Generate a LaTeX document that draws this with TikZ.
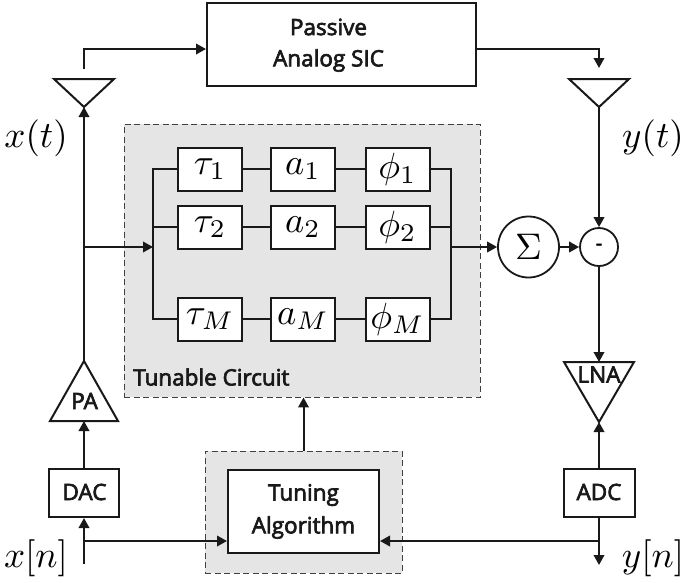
\documentclass[tikz,border=0pt]{standalone}
\usepackage[no-math]{fontspec}
\newfontfamily\labfont[FakeBold=3]{Open Sans}
\usetikzlibrary{arrows.meta,calc}
\newcommand{\mbx}[1]{\scalebox{3.65}{$#1$}}
\newcommand{\msg}[1]{\scalebox{3.7}{$#1$}}
\tikzset{
  wire/.style={line width=2pt,draw=black!90,line cap=butt},
  arr/.style={wire,-{Triangle[length=10pt,width=10.5pt]}},
  blockbox/.style={draw=black!90,line width=2pt,fill=white,inner sep=0pt},
  mathbox/.style={draw=black!90,line width=2pt,fill=white,inner sep=0pt,minimum width=64pt,minimum height=43pt},
  graybox/.style={draw=black!75,line width=0.9pt,dash pattern=on 6pt off 3.5pt,fill=black!10,inner sep=0pt},
  tri/.style={draw=black!90,line width=2pt,fill=white,line join=miter},
  sig/.style={inner sep=0pt},
  lab/.style={inner sep=0pt,text=black!90,font=\labfont\fontsize{22.5}{22.5}\selectfont},
  circ/.style={circle,draw=black!90,line width=1.8pt,fill=white,inner sep=0pt}
}
\begin{document}
\begin{tikzpicture}[x=1pt,y=-1pt]
\useasboundingbox (0,0) rectangle (684,582);
% shaded regions
\node[graybox,minimum width=356pt,minimum height=273pt] (tun) at (302,260.5) {};
\node[graybox,minimum width=197pt,minimum height=122pt] (tg) at (303.5,512) {};
\node[lab,anchor=west] (tunlab) at (133,377) {Tunable Circuit};
% blocks
\node[blockbox,minimum width=269pt,minimum height=83pt] (sic) at (341.5,44.5) {};
\node[lab] (sica) at (328.5,27) {Passive};
\node[lab] (sicb) at (328.5,60.5) {Analog SIC};
\node[blockbox,minimum width=70pt,minimum height=48pt] (dac) at (84,493) {};
\node[lab] (daclab) at (84.5,492) {DAC};
\node[blockbox,minimum width=71pt,minimum height=48pt] (adc) at (599,493) {};
\node[lab] (adclab) at (599,492) {ADC};
\node[blockbox,minimum width=151pt,minimum height=83pt] (alg) at (303.5,511.5) {};
\node[lab] (alga) at (303.5,495) {Tuning};
\node[lab] (algb) at (303.5,527.5) {Algorithm};
\node[mathbox] (t1) at (210,169) {\mbx{\tau_1}};
\node[mathbox] (a1) at (303,169) {\mbx{a_1}};
\node[mathbox] (p1) at (397.5,169) {\mbx{\phi_1}};
\node[mathbox] (t2) at (210,227) {\mbx{\tau_2}};
\node[mathbox] (a2) at (303,227) {\mbx{a_2}};
\node[mathbox] (p2) at (397.5,227) {\mbx{\phi_2}};
\node[mathbox] (tm) at (210,319) {\mbx{\tau_M}};
\node[mathbox] (am) at (303,319) {\mbx{a_M}};
\node[mathbox] (pm) at (397.5,319) {\mbx{\phi_M}};
% summation
\node[circ,minimum size=61pt] (sum) at (528.5,247) {\msg{\Sigma}};
\node[circ,minimum size=38pt,font=\labfont\fontsize{20}{20}\selectfont] (sub) at (599,247) {-};
% antennas and amplifiers
\coordinate (txl) at (54,79); \coordinate (txr) at (114,79); \coordinate (txtip) at (84,107);
\coordinate (rxl) at (569,79); \coordinate (rxr) at (629,79); \coordinate (rxtip) at (599,107);
\coordinate (pal) at (50,421); \coordinate (par) at (118,421); \coordinate (patip) at (84,361);
\coordinate (lnl) at (564,362); \coordinate (lnr) at (634,362); \coordinate (lntip) at (599,422);
\draw[tri] (txl) -- (txr) -- (txtip) -- cycle;
\draw[tri] (rxl) -- (rxr) -- (rxtip) -- cycle;
\draw[tri] (pal) -- (par) -- (patip) -- cycle;
\draw[tri] (lnl) -- (lnr) -- (lntip) -- cycle;
\node[lab] (palab) at (84.5,401) {PA};
\node[lab] (lnalab) at (599,374.5) {LNA};
% free ends
\coordinate (txtop) at (84,69);
\coordinate (rxtop) at (599,68);
\coordinate (lbus) at (153,247);
\coordinate (rbus) at (451,247);
\coordinate (xin) at (84,564);
\coordinate (yout) at (599,565);
\coordinate (xbr) at (84,541);
\coordinate (ybr) at (599,541);
\coordinate (txbr) at (84,247);
% connectors
\draw[arr] (txtop) |- ([yshift=-4.5pt]sic.west);
\draw[arr] ([yshift=-4.5pt]sic.east) -| (rxtop);
\draw[arr] (patip) -- (txtip);
\draw[arr] (txbr) -- (lbus);
\draw[wire] (t1.west) -| (lbus) |- (tm.west);
\draw[wire] (t2.west) -- (t2.west -| lbus);
\draw[wire] (p1.east) -| (rbus) |- (pm.east);
\draw[wire] (p2.east) -- (p2.east -| rbus);
\foreach \a/\b in {t1/a1,a1/p1,t2/a2,a2/p2,tm/am,am/pm} \draw[wire] (\a) -- (\b);
\draw[arr] (rbus) -- (sum.west);
\draw[arr] (sum.east) -- (sub.west);
\draw[arr] (rxtip) -- (sub.north);
\draw[arr] (sub.south) -- (599,362);
\draw[arr] (adc.north) -- (lntip);
\draw[arr] (dac.north) -- (patip |- par);
\draw[arr] (xin) -- (dac.south);
\draw[arr] (xbr) -- (xbr -| alg.west);
\draw[arr] (adc.south) -- (yout);
\draw[arr] (ybr) -- (ybr -| alg.east);
\draw[arr] (tg.north) -- (tg.north |- tun.south);
% signal labels
\node[sig] (xt) at (36,138) {\msg{x(t)}};
\node[sig] (yt) at (653,138) {\msg{y(t)}};
\node[sig] (xn) at (36,558) {\msg{x[n]}};
\node[sig] (yn) at (653,558) {\msg{y[n]}};
\end{tikzpicture}
\end{document}
